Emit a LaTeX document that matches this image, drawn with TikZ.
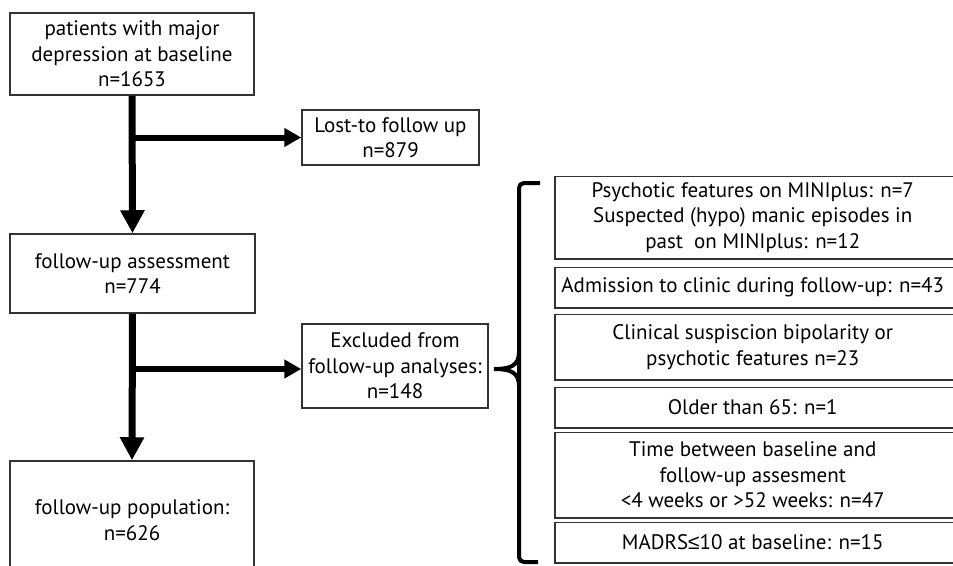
\documentclass[tikz,border=0pt]{standalone}
\usepackage{fontspec}
\setmainfont{PT Sans}
\newfontfamily\symfont{Liberation Sans}
\usetikzlibrary{arrows.meta}
\tikzset{
  boxline/.style={draw=black!80, line width=1.5pt},
  box/.style={boxline, align=center, inner sep=0pt,
    font=\fontsize{21}{25.5}\selectfont},
  rbox/.style={box, draw=none, anchor=west, minimum width=394pt},
  flow/.style={line width=7pt, -{Triangle[width=23pt,length=23pt]}},
  side/.style={line width=6pt, -{Triangle[width=18pt,length=17pt]}},
  brace/.style={line width=4pt}
}
\begin{document}
\begin{tikzpicture}[x=1pt,y=-1pt]
\useasboundingbox (0,0) rectangle (953,565);
\clip (0,0) rectangle (953,565);
\node[box, minimum width=244pt, minimum height=82pt] (top) at (132,54) {patients with major\\depression at baseline\\n=1653};
\node[box, minimum width=177pt, minimum height=55pt] (lost) at (390.5,137.5) {Lost-to follow up\\n=879};
\node[box, minimum width=245pt, minimum height=79pt] (assess) at (132.5,273.5) {follow-up assessment\\n=774};
\node[box, minimum width=244pt, minimum height=118pt] (pop) at (132,520) {follow-up population:\\n=626};
\node[box, minimum width=186pt, minimum height=84pt] (excl) at (395,366) {Excluded from\\follow-up analyses:\\n=148};
\node[rbox, minimum height=81pt] (r1) at (555,217.5) {Psychotic features on MINIplus: n=7\\Suspected (hypo) manic episodes in\\past\ \ on MINIplus: n=12};
\node[rbox, minimum height=39pt] (r2) at (555,287.5) {Admission to clinic during follow-up: n=43};
\node[rbox, minimum height=64pt] (r3) at (555,347) {Clinical suspiscion bipolarity or\\psychotic features n=23};
\node[rbox, minimum height=39pt] (r4) at (555,407.5) {Older than 65: n=1};
\node[rbox, minimum height=84pt] (r5) at (555,475) {Time between baseline and\\follow-up assesment\\{<}4 weeks or {>}52 weeks: n=47};
\node[rbox, minimum height=39pt] (r6) at (555,542.5) {MADRS{\symfont ≤}10 at baseline: n=15};
\foreach \r in {r1,r2,r3,r4,r5,r6}
  \draw[boxline] (\r.south west) rectangle ([xshift=30pt]\r.north east);
\draw[flow] (top.south) -- (assess.north);
\draw[side] (top.south |- lost.west) -- (lost.west);
\draw[flow] (assess.south) -- (pop.north);
\coordinate (j2) at (132.5,369);
\coordinate (e2) at (excl.west |- j2);
\draw[side] (j2) -- (e2);
\draw[brace, rounded corners=5pt] (540,183) -- (519,183) -- (519,562) -- (538,562);
\draw[brace, line cap=round] (519,352) .. controls (519,366) and (510,369) .. (494,369) .. controls (510,369) and (519,372) .. (519,386);
\end{tikzpicture}
\end{document}
